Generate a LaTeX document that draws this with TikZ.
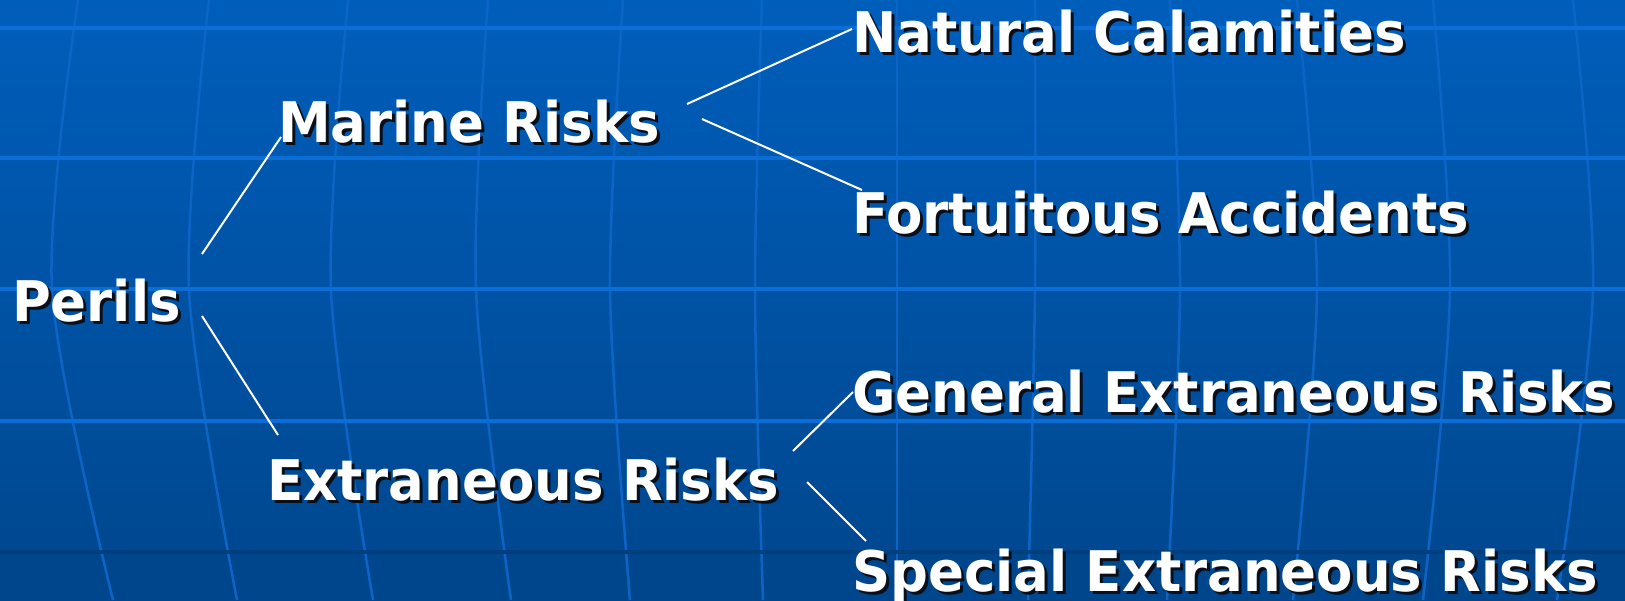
\documentclass[tikz,border=0pt]{standalone}
\usepackage{fontspec}
\setmainfont{DejaVu Sans}[FakeStretch=0.945]
\usetikzlibrary{calc}

\definecolor{bgtop}{HTML}{005EBB}
\definecolor{bgbot}{HTML}{00468D}
\definecolor{gridlight}{HTML}{0A6ED6}
\definecolor{griddark}{HTML}{003E7E}
\definecolor{meridian}{HTML}{0C64C6}
\definecolor{txtshadow}{HTML}{0A0F1A}

% white text with a dark drop shadow
\newcommand{\shtext}[1]{\makebox[0pt][l]{\hspace{3pt}\raisebox{-3pt}{\color{txtshadow}#1}}#1}

\begin{document}
\begin{tikzpicture}[x=1pt,y=-1pt,
  lbl/.style={anchor=base west, inner sep=0pt, text=white,
    font=\fontsize{56}{60}\selectfont\bfseries},
  conn/.style={draw=white, line width=2pt},
  hline/.style={draw=gridlight, line width=4pt},
  mline/.style={draw=meridian, line width=2.5pt}]

\useasboundingbox (0,0) rectangle (1625,600);

% backdrop
\shade[top color=bgtop, bottom color=bgbot] (0,0) rectangle (1625,600);
\fill[bgbot] (0,552) rectangle (1625,600);

% curved meridians
\foreach \xt/\xm/\xb in {78/52/113, 209/189/237, 348/331/373, 488/476/511,
  623/610/630, 762/755/763, 897/897/897, 1035/1035/1028, 1170/1180/1167,
  1297/1317/1293, 1433/1450/1423, 1573/1593/1557}
  \draw[mline] plot[smooth] coordinates {(\xt,0) (\xm,290) (\xb,600)};

% parallels
\foreach \yy in {28,158,289,421}
  \draw[hline] (0,\yy) -- (1625,\yy);
\draw[draw=griddark, line width=4pt] (0,552) -- (1625,552);

% tree labels
\node[lbl] (perils) at (12,321) {\shtext{Perils}};
\node[lbl] (marine) at (278,142) {\shtext{Marine Risks}};
\node[lbl] (extra) at (267,500) {\shtext{Extraneous Risks}};
\node[lbl] (natural) at (852,52) {\shtext{Natural Calamities}};
\node[lbl] (fortuit) at (852,233) {\shtext{Fortuitous Accidents}};
\node[lbl] (general) at (852,412) {\shtext{General Extraneous Risks}};
\node[lbl] (special) at (852,591) {\shtext{Special Extraneous Risks}};

% branch ends
\coordinate (p-up) at (202,254);  \coordinate (m-in) at (281,137);
\coordinate (p-dn) at (202,316);  \coordinate (e-in) at (278,435);
\coordinate (m-up) at (687,104);  \coordinate (n-in) at (852,29);
\coordinate (m-dn) at (702,119);  \coordinate (f-in) at (862,190);
\coordinate (e-up) at (793,451);  \coordinate (g-in) at (853,392);
\coordinate (e-dn) at (807,482);  \coordinate (s-in) at (866,541);

\draw[conn] (p-up) -- (m-in);
\draw[conn] (p-dn) -- (e-in);
\draw[conn] (m-up) -- (n-in);
\draw[conn] (m-dn) -- (f-in);
\draw[conn] (e-up) -- (g-in);
\draw[conn] (e-dn) -- (s-in);
\end{tikzpicture}
\end{document}
